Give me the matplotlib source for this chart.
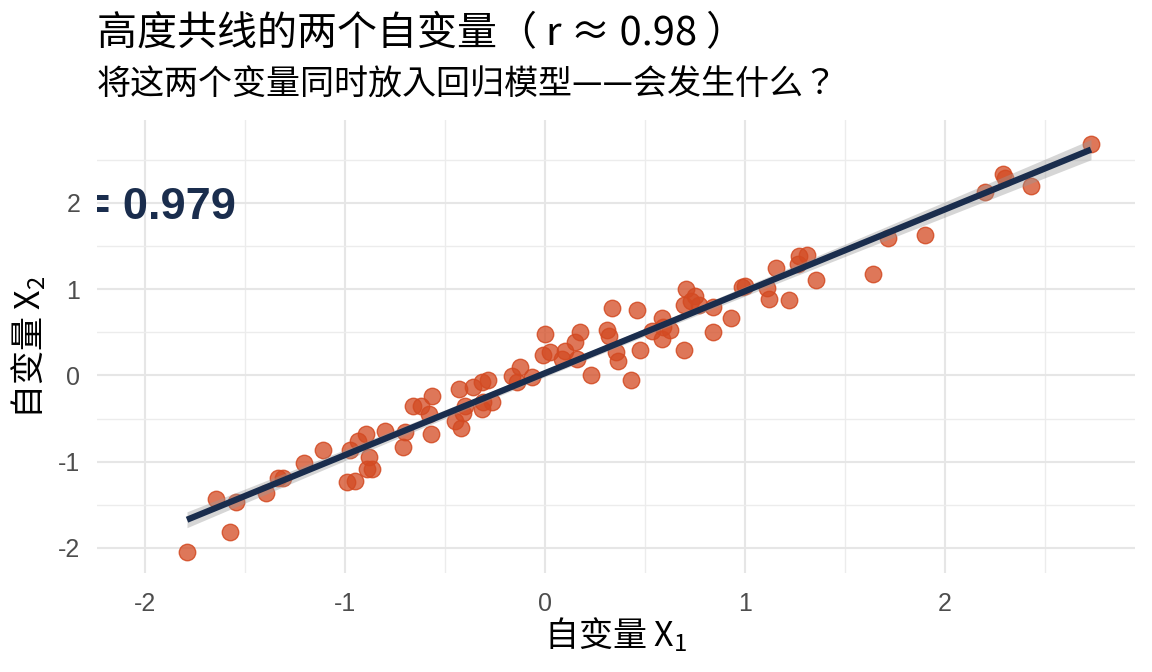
import numpy as np
import matplotlib
matplotlib.use("Agg")
import matplotlib.pyplot as plt

plt.rcParams['font.family'] = ['Noto Sans CJK TC', 'DejaVu Sans']
plt.rcParams['axes.unicode_minus'] = False
plt.rcParams['mathtext.fontset'] = 'custom'
plt.rcParams['mathtext.rm'] = 'Noto Sans CJK TC'
plt.rcParams['mathtext.it'] = 'Noto Sans CJK TC'

# values
x1 = [-1.79, -1.575, -1.645, -1.545, -1.395, -1.335, -1.31, -1.205, -1.11,
      -0.99, -0.95, -0.975, -0.935, -0.895, -0.88, -0.89, -0.865, -0.80,
      -0.71, -0.70, -0.57, -0.66, -0.62, -0.565, -0.58,
      -0.45, -0.42, -0.43, -0.40, -0.41, -0.36, -0.315, -0.285, -0.31, -0.265, -0.315,
      -0.165, -0.14, -0.125, -0.065, -0.01, 0.0, 0.025, 0.085, 0.10, 0.15, 0.175, 0.16, 0.23,
      0.335, 0.31, 0.32, 0.355, 0.365, 0.43, 0.46, 0.475, 0.535, 0.585, 0.59, 0.625, 0.585,
      0.695, 0.695, 0.73, 0.705, 0.75, 0.77, 0.84, 0.84, 0.93, 0.985, 1.0, 1.11, 1.12,
      1.22, 1.155, 1.265, 1.27, 1.31, 1.355, 1.64, 1.715, 1.90, 2.20, 2.29, 2.30, 2.43, 2.73]
x2 = [-2.05, -1.81, -1.43, -1.47, -1.36, -1.19, -1.19, -1.01, -0.87,
      -1.23, -1.22, -0.86, -0.76, -0.68, -0.94, -1.09, -1.08, -0.65,
      -0.83, -0.66, -0.68, -0.36, -0.35, -0.24, -0.45,
      -0.53, -0.61, -0.16, -0.36, -0.43, -0.13, -0.08, -0.05, -0.31, -0.31, -0.39,
      -0.01, -0.08, 0.10, -0.02, 0.24, 0.48, 0.27, 0.19, 0.28, 0.39, 0.50, 0.19, 0.01,
      0.78, 0.53, 0.46, 0.27, 0.17, -0.05, 0.76, 0.30, 0.51, 0.67, 0.56, 0.53, 0.42,
      0.29, 0.82, 0.86, 1.00, 0.92, 0.82, 0.79, 0.50, 0.67, 1.02, 1.04, 1.01, 0.88,
      0.87, 1.25, 1.29, 1.38, 1.39, 1.11, 1.18, 1.59, 1.63, 2.12, 2.33, 2.29, 2.19, 2.68]
r_text = "r = 0.979"
ticks = [-2, -1, 0, 1, 2]
tick_labels = ["-2", "-1", "0", "1", "2"]

x = np.array(x1)
y = np.array(x2)

# lm fit with 95% band, like geom_smooth(method = "lm")
n = len(x)
b1, b0 = np.polyfit(x, y, 1)
s = np.sqrt(np.sum((y - (b0 + b1 * x)) ** 2) / (n - 2))
xs = np.linspace(x.min(), x.max(), 100)
se = s * np.sqrt(1 / n + (xs - x.mean()) ** 2 / np.sum((x - x.mean()) ** 2))
yhat = b0 + b1 * xs

fig = plt.figure(figsize=(11.52, 6.72), dpi=100)
W, H = 1152, 672
ax = fig.add_axes([97 / W, 1 - 573 / H, (1135 - 97) / W, (573 - 120) / H])

ax.scatter(x, y, s=140, facecolor=(0.827, 0.290, 0.133, 0.75),
           edgecolor=(0.827, 0.290, 0.133, 0.85), linewidth=1.0, zorder=3)
ax.fill_between(xs, yhat - 1.985 * se, yhat + 1.985 * se, color='#999999',
                alpha=0.4, linewidth=0, zorder=4)
ax.plot(xs, yhat, color='#1a2d4d', linewidth=4.5, solid_capstyle='butt', zorder=5)

ax.annotate(r_text, xy=(-2.0, 2.0), xytext=(0, -11.5), textcoords='offset points',
            ha='center', va='baseline', fontsize=32.5, fontweight='bold',
            family='Liberation Sans', color='#1a2d4d', clip_on=True, zorder=6)

ax.set_xlim(-2.24, 2.95)
ax.set_ylim(-2.29, 2.96)
ax.set_xticks(ticks)
ax.set_xticklabels(tick_labels)
ax.set_yticks(ticks)
ax.set_yticklabels(tick_labels)
ax.set_xticks([-1.5, -0.5, 0.5, 1.5, 2.5], minor=True)
ax.set_yticks([-1.5, -0.5, 0.5, 1.5, 2.5], minor=True)
ax.grid(which='major', color='#E6E6E6', linewidth=1.5, zorder=0)
ax.grid(which='minor', color='#ECECEC', linewidth=1.0, zorder=0)
ax.set_axisbelow(True)
for sp in ax.spines.values():
    sp.set_visible(False)
ax.tick_params(which='both', length=0)
ax.tick_params(axis='x', pad=14)
ax.tick_params(axis='y', pad=12)
for lab in ax.get_xticklabels() + ax.get_yticklabels():
    lab.set_family('Liberation Sans')
    lab.set_fontsize(18)
    lab.set_color('#4D4D4D')

fig.text(97 / W, 1 - 45 / H, "高度共线的两个自变量（ r ≈ 0.98 ）", fontsize=28.8,
         ha='left', va='baseline', color='black')
fig.text(97 / W, 1 - 95 / H, "将这两个变量同时放入回归模型——会发生什么？", fontsize=24.5,
         ha='left', va='baseline', color='black')
fig.text(616 / W, 1 - 646 / H, r"自变量 $\mathrm{X}_1$", fontsize=24.5,
         ha='center', va='baseline', color='black')
fig.text(29 / W, 1 - 347 / H, r"自变量 $\mathrm{X}_2$", fontsize=24.5, rotation=90,
         ha='center', va='center', color='black')

fig.savefig("out.png", dpi=100)
